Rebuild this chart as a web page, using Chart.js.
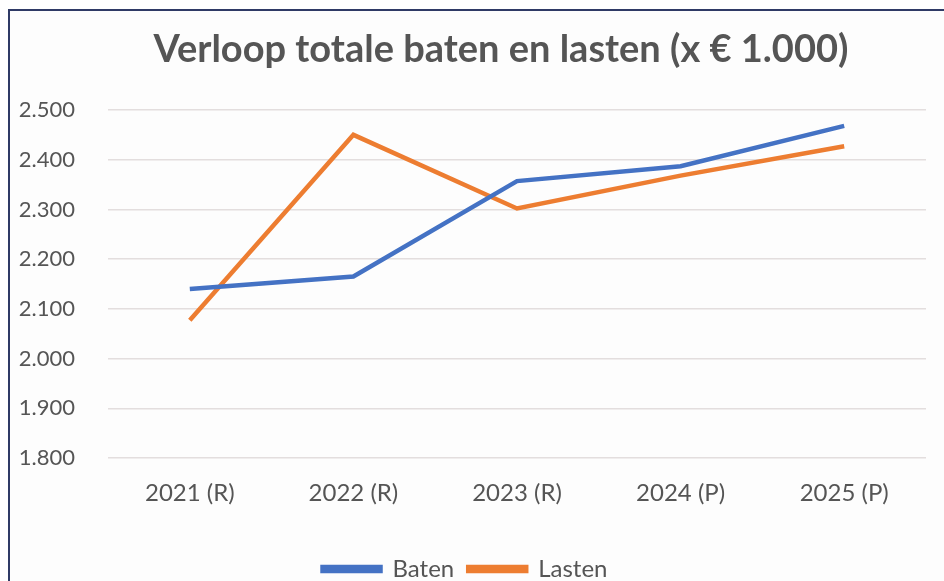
<!DOCTYPE html>
<html>
<head>
<meta charset="utf-8">
<script src="https://cdn.jsdelivr.net/npm/chart.js@4/dist/chart.umd.min.js"></script>
<style>
  html, body { margin: 0; padding: 0; background: #fff; overflow: hidden; }
  #frame {
    position: absolute; left: 8px; top: 9px; width: 936px; height: 582px;
    border-left: 2px solid #2f3a66; border-top: 2px solid #2f3a66;
    box-sizing: border-box; background: #fdfdfd;
  }
  #chart { display: block; }
</style>
</head>
<body>
<div id="frame"><canvas id="chart" width="934" height="580"></canvas></div>
<script>
const years = ['2021 (R)', '2022 (R)', '2023 (R)', '2024 (P)', '2025 (P)'];
const baten = [2140, 2165, 2357, 2387, 2468];
const lasten = [2077, 2450, 2302, 2368, 2427];
const yMin = 1800, yMax = 2500, yStep = 100;

const textGray = '#555555';
const fontFamily = 'Lato, "Open Sans", sans-serif';

function nlNumber(v) {
  return String(v).replace(/\B(?=(\d{3})+(?!\d))/g, '.');
}

// nudge title and legend sideways, like the original sheet
const nudge = {
  id: 'nudge',
  afterLayout(chart) {
    const t = chart.titleBlock, l = chart.legend;
    t.left += 33; t.right += 33;
    l.left -= 3; l.right -= 3;
  }
};

new Chart(document.getElementById('chart'), {
  type: 'line',
  data: {
    labels: years,
    datasets: [
      { label: 'Baten', data: baten, borderColor: '#4472C4', backgroundColor: '#4472C4', borderWidth: 4.5, pointRadius: 0, tension: 0, fill: false },
      { label: 'Lasten', data: lasten, borderColor: '#ED7D31', backgroundColor: '#ED7D31', borderWidth: 4.5, pointRadius: 0, tension: 0, fill: false }
    ]
  },
  plugins: [nudge],
  options: {
    responsive: false,
    animation: false,
    layout: { padding: { left: 0, right: 18, top: 0, bottom: 0 } },
    plugins: {
      title: {
        display: true,
        text: 'Verloop totale baten en lasten (x € 1.000)',
        color: textGray,
        font: { family: fontFamily, size: 38, weight: 'bold' },
        padding: { top: 16, bottom: 37.4 }
      },
      legend: {
        position: 'bottom',
        labels: {
          color: textGray,
          font: { family: fontFamily, size: 24 },
          boxWidth: 58,
          boxHeight: 4,
          padding: 14
        }
      },
      tooltip: { enabled: false }
    },
    scales: {
      x: {
        offset: true,
        grid: { display: false, drawTicks: false },
        border: { display: false },
        ticks: { color: textGray, font: { family: fontFamily, size: 24 }, padding: 21 },
        afterFit: scale => { scale.height = 85; }
      },
      y: {
        min: yMin,
        max: yMax,
        grid: { color: '#e3dede', lineWidth: 1.5, drawTicks: false },
        border: { display: false },
        ticks: {
          stepSize: yStep,
          color: textGray,
          font: { family: fontFamily, size: 22 },
          padding: 33,
          callback: v => nlNumber(v)
        },
        afterFit: scale => { scale.width = 98; }
      }
    }
  }
});
</script>
</body>
</html>
